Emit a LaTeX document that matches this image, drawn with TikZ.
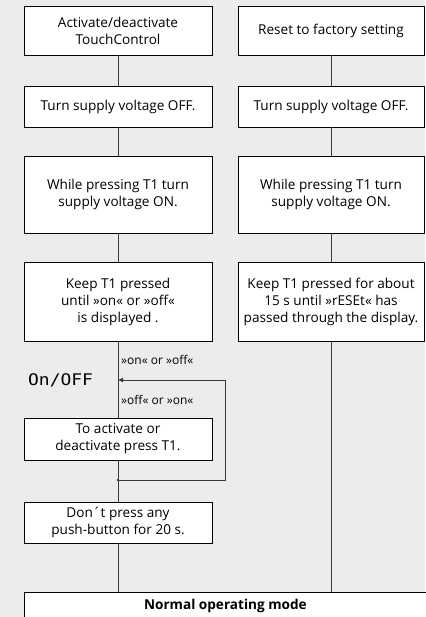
\documentclass[tikz,border=0pt]{standalone}
\usepackage{fontspec}
\usetikzlibrary{arrows.meta}
\setmainfont{Open Sans}
\newfontfamily\segfont[FakeStretch=1.12]{DejaVu Sans Mono}
\definecolor{bg}{HTML}{ECECEC}
\definecolor{ln}{HTML}{3A3A3A}
\begin{document}
\begin{tikzpicture}[x=1pt,y=-1pt,
  box/.style={draw=black,fill=white,line width=0.8pt,align=center,inner sep=0pt,
    font=\fontsize{13.6}{17}\selectfont},
  lbox/.style={box,minimum width=188pt},
  rbox/.style={box,minimum width=186pt},
  conn/.style={draw=ln,line width=0.8pt},
  lab/.style={font=\fontsize{12}{13}\selectfont,anchor=west,inner sep=0pt}]
\fill[bg] (0,0) rectangle (425,617);
\useasboundingbox (0,0) rectangle (425,617);
% left column
\node[lbox,minimum height=49pt] (l1) at (118,30.5) {Activate/deactivate\\TouchControl};
\node[lbox,minimum height=41pt] (l2) at (118,106.5) {Turn supply voltage OFF.};
\node[lbox,minimum height=77pt] (l3) at (118,194.5) {While pressing T1 turn\\supply voltage ON.};
\node[lbox,minimum height=79pt] (l4) at (118,301.5) {Keep T1 pressed\\until »on« or »off«\\is displayed .};
\node[lbox,minimum height=42pt] (l5) at (118,439) {To activate or\\deactivate press T1.};
\node[lbox,minimum height=41pt] (l6) at (118,522.5) {Don´t press any\\push-button for 20 s.};
% right column
\node[rbox,minimum height=49pt] (r1) at (331,30.5) {Reset to factory setting};
\node[rbox,minimum height=41pt] (r2) at (331,106.5) {Turn supply voltage OFF.};
\node[rbox,minimum height=77pt] (r3) at (331,194.5) {While pressing T1 turn\\supply voltage ON.};
\node[rbox,minimum height=79pt] (r4) at (331,301.5) {Keep T1 pressed for about\\15 s until »rESEt« has\\passed through the display.};
% bottom
\node[box,minimum width=402pt,minimum height=28pt,anchor=north west] (nm) at (24,592) {\textbf{Normal operating mode}};
% display
\node[font=\segfont\fontsize{16}{16}\selectfont,anchor=west,inner sep=0pt] (disp) at (28,380) {On/OFF};
\node[lab] (la) at (121,360) {»on« or »off«};
\node[lab] (lb) at (121,400) {»off« or »on«};
\coordinate (tip) at (118,380);
\coordinate (jn) at (118,480);
\coordinate (rt) at (225,480);
\coordinate (rb) at (225,380);
% connectors
\draw[conn] (l1) -- (l2);
\draw[conn] (l2) -- (l3);
\draw[conn] (l3) -- (l4);
\draw[conn] (l4) -- (l5);
\draw[conn] (l5) -- (l6);
\draw[conn] (l6.south) -- (l6.south |- nm.north);
\draw[conn] (r1) -- (r2);
\draw[conn] (r2) -- (r3);
\draw[conn] (r3) -- (r4);
\draw[conn] (r4.south) -- (r4.south |- nm.north);
\draw[conn,-{Latex[length=5pt,width=5pt]}] (jn) -- (rt) -- (rb) -- (tip);
\fill[ln] (jn) circle (1.3pt);
\end{tikzpicture}
\end{document}
